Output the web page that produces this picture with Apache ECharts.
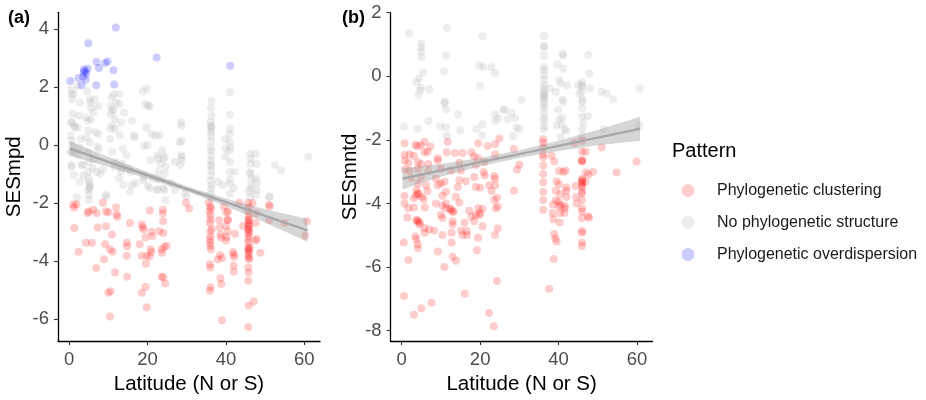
<!DOCTYPE html>
<html><head><meta charset="utf-8">
<script src="https://cdn.jsdelivr.net/npm/echarts@6/dist/echarts.min.js"></script>
<style>html,body{margin:0;padding:0;background:#fff}#c{width:926px;height:400px}</style>
</head><body><div id="c"></div>
<script>
// ---------- data (latitude, SES) ----------
var xTicks = [0, 20, 40, 60];
var yTicksA = [-6, -4, -2, 0, 2, 4];
var yTicksB = [-8, -6, -4, -2, 0, 2];
var patternNames = ["Phylogenetic clustering", "No phylogenetic structure", "Phylogenetic overdispersion"];

var aBlue = [[0.3,2.2],[2.4,2.3],[3.2,2.05],[3.7,2.5],[4.1,2.54],[4.7,2.62],[4.2,2.25],[3.8,2.6],[3.6,2.35],[4.4,2.45],[4.9,3.5],[7.0,2.86],[7.6,2.65],[6.9,2.05],[9.2,2.82],[9.8,2.87],[11.3,2.57],[11.5,2.08],[11.9,4.05],[22.3,3.01],[41.1,2.73]];

var aGray = [[0.5,1.9],[1.2,1.77],[0.8,1.57],[0.9,1.06],[0.6,0.77],[1.3,0.66],[0.5,0.32],[0.8,-0.02],[0.4,-0.25],[0.6,-0.76],[1.2,-1.05],[0.6,1.74],[0.6,0.78],[1.5,0.6],[0.6,0.15],[0.7,-0.24],[0.6,-0.7],
[2.2,2.03],[2.8,1.46],[2.5,1.0],[2.1,0.6],[3.0,0.2],[2.6,-0.08],[2.3,-0.36],[3.1,-0.7],[3.6,-0.7],[3.6,-1.05],[2.8,-1.27],[2.0,-1.82],
[4.6,1.85],[5.3,1.57],[5.6,1.29],[4.3,0.94],[4.8,0.83],[5.0,0.49],[4.4,0.26],[5.2,0.09],[4.8,-0.25],[5.1,-0.6],[4.9,-0.93],[5.0,-1.16],[5.2,-1.39],[4.9,-1.56],[5.1,-1.73],[5.0,-1.27],[5.2,-1.5],[5.0,-1.9],[5.4,1.48],[5.6,0.86],[5.3,-1.45],
[6.5,1.57],[7.4,1.34],[6.8,0.43],[7.6,-0.14],[6.3,-0.48],[7.0,-0.93],[6.1,1.12],[7.5,0.37],[7.2,-0.07],[6.0,-0.8],[8.0,-1.0],[8.6,-0.85],[9.4,-1.79],[9.5,-1.73],
[10.8,1.63],[11.4,1.74],[10.6,1.34],[11.1,1.17],[10.6,1.06],[11.7,0.89],[11.0,0.66],[11.7,0.55],[10.5,0.2],[11.0,-0.25],[11.8,-0.59],[10.5,0.55],[11.2,1.23],[12.0,1.46],[12.8,1.75],[11.5,-0.75],
[12.8,1.4],[14.0,1.11],[13.3,0.77],[12.9,0.32],[14.6,-0.36],[13.2,-0.82],[12.7,-1.16],[13.7,-0.14],[13.3,-0.93],[13.5,-0.65],[13.8,-1.39],
[16.0,0.83],[16.5,0.32],[15.7,-0.93],[16.9,-1.33],[16.7,0.26],[15.0,-0.82],[16.1,-1.39],[15.5,-1.6],
[18.8,1.85],[19.8,1.93],[19.5,1.4],[20.1,1.34],[20.6,1.34],[19.7,0.6],[21.0,0.37],[19.1,-0.02],[20.0,-0.02],[20.7,-0.53],[19.0,-1.22],[18.9,-1.1],[20.1,-1.43],[20.6,-1.5],
[22.0,0.32],[23.1,0.32],[23.8,-0.19],[22.5,-0.36],[24.1,-0.48],[23.3,-0.65],[24.6,-0.76],[22.8,-0.93],[21.4,-1.16],[24.3,-1.56],[22.7,-1.55],[22.7,-0.48],[24.4,-0.41],[22.7,-1.2],[24.4,-1.0],[22.3,-1.55],[24.0,-1.5],[24.5,-1.9],
[28.5,0.77],[28.7,0.66],[28.2,0.09],[28.6,-0.36],[27.0,-0.59],[28.3,-0.7],[26.0,-1.33],[27.0,-1.56],[29.5,-1.67],[30.0,-1.78],[28.7,0.14],[28.7,-0.43],[28.7,-0.54],
[36.3,1.51],[36.2,1.28],[36.3,0.99],[36.1,0.77],[36.3,0.66],[36.2,0.62],[36.2,0.55],[36.2,0.43],[36.2,0.3],[36.3,0.14],[36.2,-0.09],[36.2,-0.2],[36.3,-0.37],[36.1,-0.54],[36.3,-0.66],[36.2,-0.75],[36.2,-0.89],[36.3,-1.06],[36.1,-1.23],[36.3,-1.4],[36.2,-1.51],[36.1,-1.7],[36.3,-1.85],
[38.0,-1.27],[41.0,1.8],[41.0,1.04],[41.0,0.55],[41.0,0.38],[41.0,0.1],[41.1,-0.09],[40.9,-0.2],[41.0,-0.6],[41.0,-0.94],[41.0,-1.34],[41.0,-1.68],[39.8,0.2],[39.9,-0.13],[39.8,-0.4],[39.2,-1.39],[42.3,-0.92],[41.0,-1.2],[42.0,-1.5],
[46.2,-0.31],[47.6,-0.31],[46.4,-0.48],[47.8,-0.65],[46.3,-0.65],[46.2,-1.0],[46.2,-0.95],[46.5,-1.17],[47.6,-1.17],[46.3,-1.51],[46.2,-1.8],[46.5,-1.39],[47.8,-1.56],[45.8,-1.6],[48.0,-1.3],[47.6,-1.72],
[52.5,-0.7],[54.0,-0.89],[61.0,-0.41],[51.2,-1.78],[51.0,-1.8]];

var aRed = [[1.0,-2.07],[1.3,-2.16],[1.9,-2.05],[1.3,-2.87],[2.4,-3.69],[4.3,-3.38],[5.8,-3.38],[5.0,-2.3],[4.7,-2.35],[6.1,-2.24],[7.0,-2.36],[7.3,-2.85],[6.9,-4.25],[8.6,-2.0],[9.4,-2.3],[10.0,-2.33],[9.4,-2.81],[9.2,-3.43],[8.9,-3.95],[10.9,-3.09],[10.4,-3.6],[11.1,-3.69],[12.0,-2.16],[12.1,-2.4],[12.3,-2.48],[11.7,-4.4],[10.0,-5.1],[10.6,-5.05],[10.4,-5.92],
[14.7,-3.38],[14.8,-3.5],[14.7,-3.83],[14.8,-4.55],[15.5,-2.7],[18.5,-2.75],[18.8,-2.84],[19.0,-2.92],[18.0,-3.43],[18.5,-3.83],[19.8,-3.83],[19.6,-4.1],[19.5,-4.9],[18.5,-5.1],[19.8,-5.6],[20.6,-2.27],[19.5,-3.2],[21.0,-3.0],[21.2,-3.15],[20.8,-3.6],[21.0,-3.7],[20.5,-3.85],
[23.0,-2.98],[23.9,-2.24],[23.9,-2.36],[24.0,-2.64],[23.6,-3.6],[24.3,-3.52],[24.9,-3.48],[24.0,-3.04],[23.6,-4.55],[24.0,-4.57],[24.5,-4.78],[23.7,-3.72],[29.8,-2.0],[30.6,-2.2],
[35.6,-2.0],[36.0,-2.13],[36.2,-2.2],[35.8,-2.3],[36.0,-2.43],[36.1,-2.58],[35.9,-2.7],[36.4,-2.9],[36.0,-2.98],[36.1,-3.15],[35.9,-3.27],[36.0,-3.38],[36.0,-3.49],[36.2,-3.61],[35.9,-4.12],[36.0,-4.23],[36.1,-4.91],[35.9,-5.03],
[38.3,-2.6],[38.4,-2.85],[38.6,-3.1],[38.8,-3.2],[38.5,-3.8],[39.0,-3.9],[37.9,-3.95],[38.6,-4.6],[38.8,-4.8],[39.0,-6.05],[39.5,-2.13],[40.1,-2.33],[40.4,-2.58],[40.0,-2.8],[40.4,-2.98],[40.2,-3.18],[40.0,-3.3],[40.5,-2.3],[40.5,-2.6],[41.8,-3.7],[42.0,-3.78],[42.1,-3.87],[42.0,-4.17],[42.0,-4.38],[42.3,-3.07],[43.4,-2.0],[44.4,-2.8],
[45.7,-2.01],[45.8,-2.16],[45.7,-2.3],[45.8,-2.47],[45.7,-2.58],[45.9,-2.6],[45.7,-2.7],[46.0,-2.75],[45.8,-2.81],[45.8,-2.9],[45.7,-2.92],[46.0,-3.0],[45.7,-3.04],[45.8,-3.15],[45.7,-3.27],[45.8,-3.38],[45.7,-3.55],[46.1,-3.55],[45.7,-3.61],[45.9,-3.65],[45.8,-3.72],[45.7,-3.83],[46.0,-3.9],[45.8,-3.95],[45.7,-4.23],[45.8,-4.4],[45.7,-4.69],[45.8,-5.54],[45.7,-6.28],
[46.8,-2.01],[47.6,-2.36],[47.6,-2.7],[47.8,-3.25],[47.6,-3.3],[47.1,-5.4],[48.8,-3.72],[51.0,-2.07],[51.2,-2.13],[51.0,-2.6],[55.0,-2.7],[60.2,-3.13],[60.7,-2.64]];

var bGray = [[1.9,1.35],[11.5,1.53],[20.6,1.25],[5.0,1.03],[5.0,0.91],[5.0,0.78],[5.0,0.6],[5.4,0.13],[3.8,-0.18],[4.5,-0.07],[4.9,-0.35],[4.7,-0.45],[4.3,-0.59],[7.0,-0.41],[11.3,0.65],[10.8,0.15],[11.0,-0.8],[11.3,-1.03],[10.9,-0.85],[6.8,-1.41],[0.6,-1.57],[4.0,-1.65],[9.8,-1.57],[11.3,-1.6],[11.5,-1.88],[15.0,-1.7],[14.4,-1.2],
[19.8,0.34],[20.8,0.29],[22.9,0.29],[23.8,0.1],[20.0,-0.28],[19.1,-1.67],[20.6,-1.52],[20.6,-1.86],[23.8,-1.2],[24.6,-1.33],[23.8,-1.41],[25.9,-1.05],[26.3,-1.05],[27.0,-1.36],[28.0,-1.15],[28.9,-1.31],[29.3,-1.61],[28.4,-1.88],[30.0,-1.67],[30.6,-0.74],
[36.3,1.27],[36.3,0.95],[36.3,0.91],[36.3,0.65],[36.3,0.29],[36.3,0.19],[36.3,0.03],[36.3,-0.12],[36.3,-0.28],[36.3,-0.38],[36.3,-0.49],[36.3,-0.55],[36.3,-0.59],[36.3,-0.65],[36.3,-0.69],[36.3,-0.79],[36.3,-0.9],[36.3,-1.0],[36.3,-1.16],[36.3,-1.31],[36.3,-1.41],[36.3,-1.57],[36.3,-1.67],
[37.8,-0.38],[39.7,0.39],[41.2,0.24],[40.2,-0.12],[40.5,-0.23],[39.3,-0.49],[39.9,-1.05],[41.2,-0.8],[41.0,-0.74],[41.0,0.7],[41.2,0.65],[42.2,-0.28],[41.0,-1.31],[40.8,-1.52],[41.6,-1.67],[41.9,-1.72],[39.5,-1.55],[40.2,-1.36],[40.5,-1.9],
[46.0,-0.18],[45.9,-0.28],[46.1,-0.31],[45.9,-0.49],[46.1,-0.74],[46.1,-0.78],[46.1,-1.0],[46.1,-1.26],[46.3,-1.47],[46.1,-1.67],[46.0,-1.88],[45.0,-0.28],[45.3,-0.54],[47.6,0.68],[47.8,0.08],[48.0,-0.38],[47.5,-1.26],
[51.0,-0.49],[52.3,-0.54],[53.9,-0.72],[51.5,-1.67],[60.7,-0.38],[60.6,-1.55]];

var bRed = [[0.7,-2.11],[4.9,-2.17],[5.8,-2.06],[7.3,-2.21],[11.7,-2.06],[19.5,-2.11],[21.9,-2.19],[23.8,-2.14],[24.9,-1.96],[3.5,-2.15],[4.0,-2.2],
[0.7,-2.48],[2.0,-2.45],[3.1,-2.5],[5.8,-2.39],[6.6,-2.37],[9.2,-2.58],[11.5,-2.39],[13.6,-2.41],[15.5,-2.41],[17.8,-2.39],[18.5,-2.52],[19.5,-2.58],[23.8,-2.45],
[0.8,-2.65],[1.7,-2.72],[4.1,-2.7],[4.9,-2.76],[6.8,-2.76],[9.2,-2.65],[14.7,-2.72],[18.9,-2.79],[21.1,-2.7],
[0.8,-2.93],[2.0,-2.96],[4.1,-2.91],[6.8,-2.99],[10.0,-2.91],[12.6,-2.96],[15.1,-2.96],[20.9,-3.01],
[2.4,-3.2],[4.9,-3.17],[8.7,-3.22],[10.9,-3.32],[14.7,-3.27],[16.4,-3.3],[18.5,-3.17],[21.2,-3.12],[23.6,-3.14],[23.8,-3.22],
[4.2,-3.37],[6.2,-3.43],[9.2,-3.43],[10.0,-3.37],[14.3,-3.48],[18.9,-3.48],[20.0,-3.51],[22.3,-3.43],[23.8,-3.43],
[0.7,-3.76],[3.7,-3.58],[4.1,-3.68],[4.3,-3.7],[3.6,-3.75],[5.1,-3.79],[6.6,-3.61],[10.4,-3.76],[11.3,-3.63],[13.8,-3.79],[22.9,-3.61],
[3.1,-3.84],[5.6,-3.87],[0.7,-4.0],[8.7,-4.0],[10.4,-4.07],[11.3,-4.0],[14.7,-3.97],[23.6,-3.89],[24.3,-3.82],
[1.7,-4.15],[3.1,-4.13],[5.9,-4.13],[11.3,-4.15],[12.4,-4.17],[12.5,-4.2],[13.0,-4.25],[13.2,-4.25],[17.2,-4.23],[19.5,-4.15],[20.6,-4.17],[24.0,-4.15],[24.5,-4.1],[20.0,-4.3],
[1.4,-4.44],[3.7,-4.51],[4.2,-4.56],[3.9,-4.55],[4.6,-4.6],[10.0,-4.36],[10.4,-4.46],[13.0,-4.56],[17.8,-4.41],[18.9,-4.36],[19.8,-4.36],[18.5,-4.56],
[4.5,-4.66],[5.8,-4.77],[7.0,-4.82],[8.3,-4.85],[13.0,-4.66],[16.0,-4.61],[20.6,-4.72],[15.1,-4.85],[16.6,-4.87],[24.5,-4.79],
[3.5,-5.03],[5.8,-4.92],[10.4,-4.99],[12.7,-4.92],[3.7,-5.13],[15.5,-4.99],[16.6,-4.99],[19.5,-5.08],[23.8,-4.99],
[0.5,-5.23],[4.1,-5.28],[4.1,-5.41],[12.7,-5.23],[19.2,-5.47],[9.2,-5.51],[13.0,-5.68],[13.8,-5.8],[1.7,-5.78],[10.9,-6.0],[24.3,-6.44],
[0.6,-6.91],[3.1,-7.5],[5.0,-7.3],[7.6,-7.12],[16.1,-6.84],[22.3,-7.45],[23.5,-7.86],[37.6,-6.68],[38.8,-5.75],
[36.1,-1.98],[36.1,-2.08],[36.1,-2.24],[36.1,-2.45],[36.1,-2.55],[36.1,-2.81],[36.1,-3.07],[36.1,-3.33],[36.1,-3.63],[36.1,-3.89],[36.1,-4.2],
[28.6,-2.29],[30.0,-2.78],[29.4,-2.93],[28.6,-3.6],[38.2,-2.5],[38.9,-2.68],[40.1,-2.98],[41.8,-2.96],[41.2,-3.0],[48.8,-3.0],[47.0,-3.03],[39.5,-3.3],[40.1,-3.4],[42.0,-3.5],[44.3,-3.45],[39.3,-3.6],[40.5,-3.7],[42.0,-3.8],[44.5,-3.8],[39.3,-3.9],[40.1,-4.1],[41.6,-4.08],
[38.6,-4.03],[38.5,-4.3],[38.7,-4.5],[38.9,-4.96],[39.2,-5.1],[39.5,-5.2],[40.0,-3.95],[40.6,-4.05],[40.4,-4.3],[41.5,-4.3],[41.6,-4.15],[40.3,-4.6],[42.0,-3.6],[44.6,-4.0],
[46.0,-2.03],[46.0,-2.37],[46.0,-2.65],[46.0,-2.65],[46.0,-2.68],[46.0,-3.22],[46.0,-3.27],[46.0,-3.32],[46.0,-3.35],[46.0,-3.43],[46.0,-3.48],[46.0,-3.63],[46.0,-3.68],[46.0,-3.89],[46.0,-4.15],[46.0,-4.25],[46.0,-4.46],[46.0,-4.87],[46.0,-4.92],[46.0,-5.23],[46.0,-5.34],
[46.9,-2.37],[46.9,-3.32],[47.6,-3.1],[47.5,-4.4],[47.8,-4.45],[51.0,-2.24],[54.8,-3.03],[59.9,-2.68],[44.0,-2.1]];

// fitted lines with confidence bands: [latitude, lower, fit, upper]
var aFit = [[0.2,-0.38,-0.13,0.12],[10,-0.76,-0.59,-0.42],[20,-1.16,-1.05,-0.94],[30,-1.61,-1.52,-1.43],[40,-2.11,-1.98,-1.85],[50,-2.68,-2.45,-2.22],[60.8,-3.34,-2.95,-2.56]];
var bFit = [[0.2,-3.55,-3.22,-2.89],[10,-3.16,-2.96,-2.76],[20,-2.83,-2.70,-2.57],[30,-2.57,-2.45,-2.33],[40,-2.35,-2.19,-2.03],[50,-2.17,-1.93,-1.69],[60.8,-2.03,-1.65,-1.27]];

// ---------- chart ----------
var FONT = "Liberation Sans, Arial, sans-serif";
var RED = "rgba(255,0,0,0.25)", GRAY = "rgba(190,190,190,0.35)", BLUE = "rgba(0,0,255,0.25)";

function bandSeries(fit, idx) {
  return {
    type: "custom", xAxisIndex: idx, yAxisIndex: idx, silent: true, z: 3,
    data: fit.map(function (r) { return [r[0], r[1], r[3]]; }),
    renderItem: function (params, api) {
      if (params.dataIndex !== 0) return null;
      var pts = [];
      for (var i = 0; i < fit.length; i++) pts.push(api.coord([fit[i][0], fit[i][3]]));
      for (var j = fit.length - 1; j >= 0; j--) pts.push(api.coord([fit[j][0], fit[j][1]]));
      return { type: "polygon", shape: { points: pts }, style: { fill: "rgba(153,153,153,0.4)" } };
    }
  };
}
function lineSeries(fit, idx) {
  return { type: "line", xAxisIndex: idx, yAxisIndex: idx, silent: true, z: 4, symbol: "none",
    data: fit.map(function (r) { return [r[0], r[2]]; }),
    lineStyle: { color: "#a8a8a8", width: 2.4 } };
}
function scatter(name, data, color, idx) {
  return { type: "scatter", name: name, xAxisIndex: idx, yAxisIndex: idx, data: data, symbolSize: 8,
    itemStyle: { color: color }, z: 2 };
}
function xAxis(idx) {
  return { type: "value", gridIndex: idx, min: -2.84, max: 64.0,
    name: "Latitude (N or S)", nameLocation: "middle", nameGap: 28,
    nameTextStyle: { fontFamily: FONT, fontSize: 20.5, color: "#000" },
    axisLine: { onZero: false, lineStyle: { color: "#000", width: 1.3 } },
    axisTick: { customValues: xTicks, length: 4, lineStyle: { color: "#333", width: 1.1 } },
    axisLabel: { customValues: xTicks, margin: 9, fontFamily: FONT, fontSize: 18.5, color: "#4d4d4d" },
    splitLine: { show: false } };
}
function yAxis(idx, min, max, ticks, name, gap) {
  return { type: "value", gridIndex: idx, min: min, max: max,
    name: name, nameLocation: "middle", nameGap: gap, nameRotate: 90,
    nameTextStyle: { fontFamily: FONT, fontSize: 20.5, color: "#000" },
    axisLine: { show: true, onZero: false, lineStyle: { color: "#000", width: 1.3 } },
    axisTick: { show: true, customValues: ticks, length: 4, lineStyle: { color: "#333", width: 1.1 } },
    axisLabel: { customValues: ticks, margin: 9, fontFamily: FONT, fontSize: 18.5, color: "#4d4d4d" },
    splitLine: { show: false } };
}

var chart = echarts.init(document.getElementById("c"), null, { renderer: "canvas" });
chart.setOption({
  animation: false,
  backgroundColor: "#fff",
  title: [
    { text: "(a)", left: 8, top: 9, padding: 0, textStyle: { fontFamily: FONT, fontSize: 18, fontWeight: "bold", color: "#000" } },
    { text: "(b)", left: 342, top: 9, padding: 0, textStyle: { fontFamily: FONT, fontSize: 18, fontWeight: "bold", color: "#000" } },
    { text: "Pattern", left: 672, top: 141, padding: 0, textStyle: { fontFamily: FONT, fontSize: 20, fontWeight: "normal", color: "#000" } }
  ],
  legend: {
    data: patternNames, orient: "vertical", left: 681.5, top: 182.5, itemGap: 16,
    itemWidth: 48, itemHeight: 13, icon: "circle", selectedMode: false, padding: 0,
    textStyle: { fontFamily: FONT, fontSize: 16, color: "#1a1a1a" }
  },
  grid: [
    { left: 58, top: 12.3, width: 262, height: 332.3 },
    { left: 390.6, top: 12.7, width: 262, height: 331.9 }
  ],
  xAxis: [xAxis(0), xAxis(1)],
  yAxis: [yAxis(0, -6.77, 4.57, yTicksA, "SESmpd", 33), yAxis(1, -8.33, 2.0, yTicksB, "SESmntd", 30)],
  series: [
    scatter(patternNames[1], aGray, GRAY, 0),
    scatter(patternNames[0], aRed, RED, 0),
    scatter(patternNames[2], aBlue, BLUE, 0),
    bandSeries(aFit, 0), lineSeries(aFit, 0),
    scatter(patternNames[1], bGray, GRAY, 1),
    scatter(patternNames[0], bRed, RED, 1),
    bandSeries(bFit, 1), lineSeries(bFit, 1)
  ]
});
</script></body></html>
